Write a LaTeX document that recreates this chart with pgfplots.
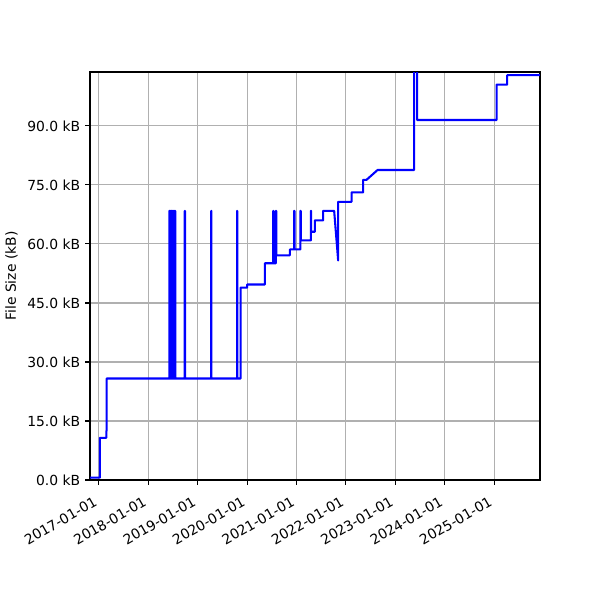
\documentclass[border=0pt]{standalone}
\usepackage{fontspec}
\setmainfont{DejaVu Sans}
\usepackage{pgfplots}
\pgfplotsset{compat=1.18}

\begin{document}
\begin{tikzpicture}
\begin{axis}[
  scale only axis,
  width=324pt, height=293.76pt,
  xmin=2016.82, xmax=2025.93,
  ymin=0, ymax=103.7,
  axis line style={line width=0.8pt},
  grid=major,
  major grid style={color=black!31, line width=0.8pt},
  tick style={black, line width=0.8pt},
  major tick length=3.5pt,
  tick align=outside,
  xtick pos=bottom, ytick pos=left,
  xtick={2017,2018,2019,2020,2021,2022,2023,2024,2025},
  xticklabels={2017-01-01,2018-01-01,2019-01-01,2020-01-01,2021-01-01,2022-01-01,2023-01-01,2024-01-01,2025-01-01},
  xticklabel style={xshift=-3.6pt, yshift=-5pt, rotate=30, anchor=north east, font=\fontsize{10}{12}\selectfont, inner sep=2pt},
  ytick={0,15,30,45,60,75,90},
  yticklabels={0.0 kB,15.0 kB,30.0 kB,45.0 kB,60.0 kB,75.0 kB,90.0 kB},
  yticklabel style={font=\fontsize{10}{12}\selectfont},
  ylabel={File Size (kB)},
  ylabel style={font=\fontsize{10}{12}\selectfont},
  /pgf/number format/assume math mode=true,
]
\addplot[blue, line width=1.5pt, line join=round] coordinates {
(2016.824,0.6) (2017.020,0.6) (2017.020,10.7) (2017.150,10.7) (2017.150,12.5) (2017.158,12.5) (2017.158,25.8)
(2018.427,25.8) (2018.427,68.4) (2018.432,68.4) (2018.432,25.8)
(2018.445,25.8) (2018.445,68.4) (2018.450,68.4) (2018.450,25.8)
(2018.463,25.8) (2018.463,68.4) (2018.468,68.4) (2018.468,25.8)
(2018.482,25.8) (2018.482,68.4) (2018.487,68.4) (2018.487,25.8)
(2018.500,25.8) (2018.500,68.4) (2018.505,68.4) (2018.505,25.8)
(2018.520,25.8) (2018.520,68.4) (2018.525,68.4) (2018.525,25.8)
(2018.540,25.8) (2018.540,68.4) (2018.546,68.4) (2018.546,25.8)
(2018.738,25.8) (2018.738,68.4) (2018.745,68.4) (2018.745,25.8)
(2019.273,25.8) (2019.273,68.4) (2019.278,68.4) (2019.278,25.8)
(2019.798,25.8) (2019.798,68.4) (2019.803,68.4) (2019.803,25.8)
(2019.868,25.8) (2019.868,48.9) (2020.002,48.9) (2020.002,49.7)
(2020.360,49.7) (2020.360,55.1)
(2020.528,55.1) (2020.528,68.4) (2020.535,68.4) (2020.535,55.1)
(2020.583,55.1) (2020.583,68.4) (2020.590,68.4) (2020.590,57.1)
(2020.866,57.1) (2020.866,58.6)
(2020.953,58.6) (2020.953,68.4) (2020.960,68.4) (2020.960,58.6)
(2021.079,58.6) (2021.079,68.4) (2021.086,68.4) (2021.086,60.9)
(2021.291,60.9) (2021.291,68.4) (2021.298,68.4) (2021.298,63.1)
(2021.372,63.1) (2021.372,66.0)
(2021.540,66.0) (2021.540,68.4) (2021.763,68.4) (2021.844,55.8) (2021.844,70.7)
(2022.115,70.7) (2022.115,73.1)
(2022.350,73.1) (2022.350,76.3) (2022.419,76.3) (2022.642,78.8)
(2023.383,78.8) (2023.383,110) (2023.443,110) (2023.443,91.5)
(2025.051,91.5) (2025.051,100.5) (2025.265,100.5) (2025.265,102.9) (2025.927,102.9)
};
\end{axis}
\path[use as bounding box] ([shift={(-64.8pt,-86.4pt)}]current axis.south west) rectangle ([shift={(43.2pt,51.84pt)}]current axis.north east);
\end{tikzpicture}
\end{document}
